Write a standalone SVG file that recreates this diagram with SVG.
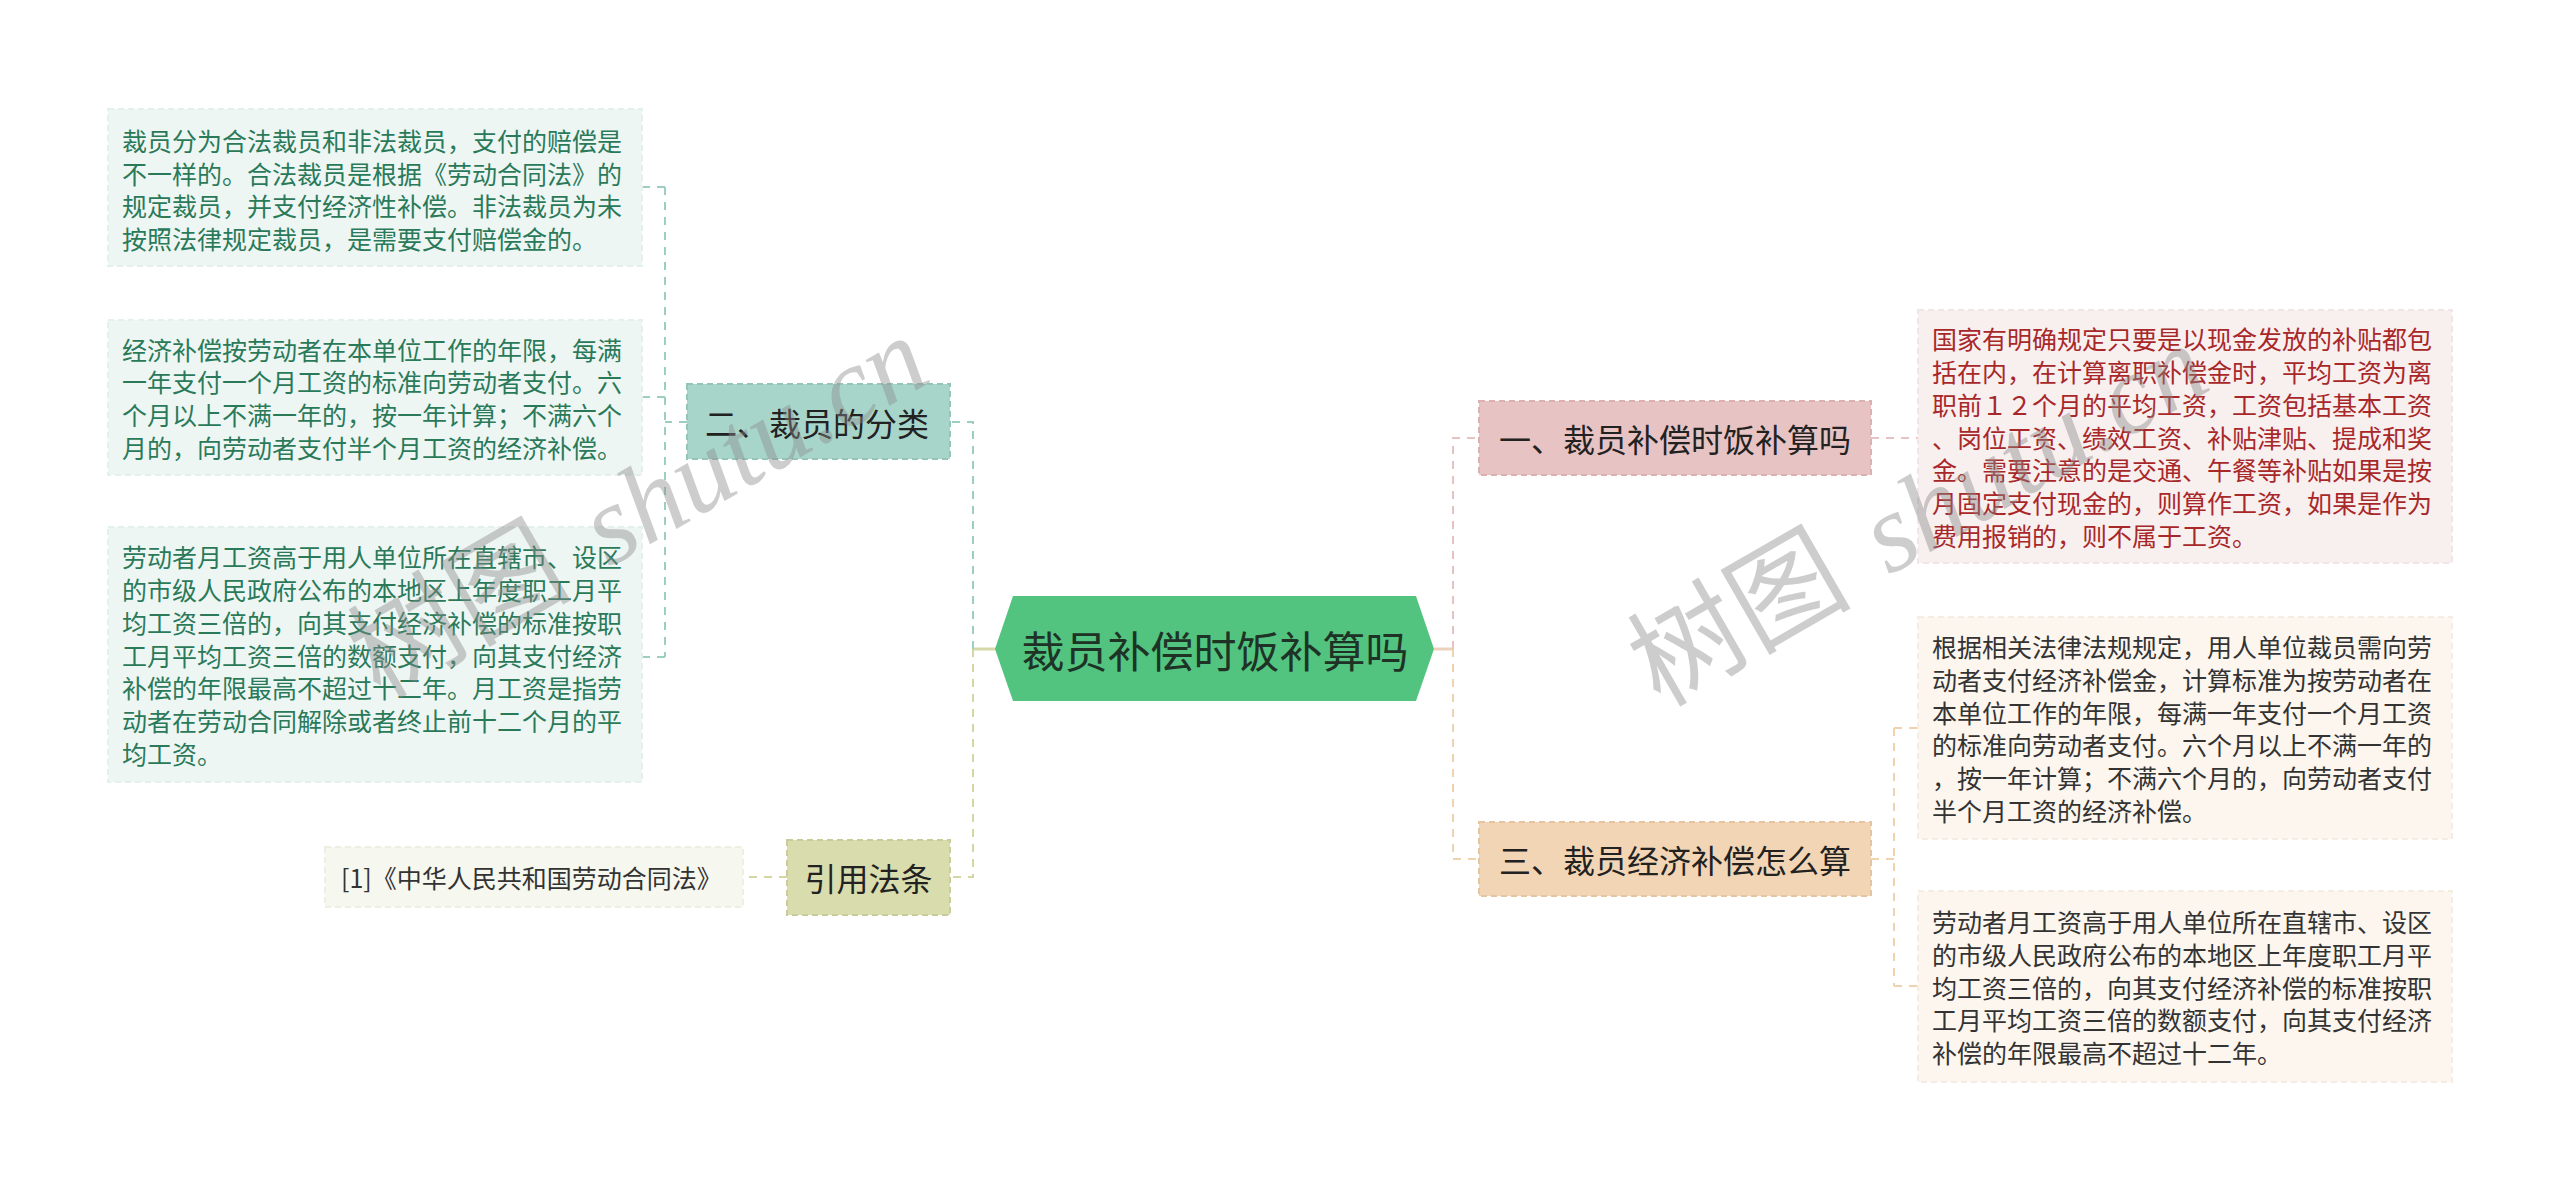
<svg xmlns="http://www.w3.org/2000/svg" width="2560" height="1192" viewBox="0 0 2560 1192">
<style>
text{font-family:"Noto Sans CJK SC","Noto Sans",sans-serif;dominant-baseline:central}
.leaf{font-size:25px}
.node{font-size:32px;fill:#222222}
.lg{fill:#2a7a5a}
.rd{fill:#a8282a}
.dk{fill:#333333}
.c{fill:none;stroke-width:2;stroke-dasharray:8 7}
.wm{fill:#8a8a8a;opacity:0.42}
</style>
<rect width="2560" height="1192" fill="#ffffff"/>
<g id="connectors">
<line x1="996" y1="649" x2="973" y2="649" stroke="#d6d8aa" stroke-width="3"/>
<path class="c" d="M973 649 V422 H950" stroke="#9ccfc2" stroke-width="3"/>
<path class="c" d="M973 649 V877 H950" stroke="#d4d6a4" stroke-width="3"/>
<line x1="1434" y1="649" x2="1453" y2="649" stroke="#ecd2ba" stroke-width="3"/>
<path class="c" d="M1453 649 V438 H1479" stroke="#e6c2c2" stroke-width="3"/>
<path class="c" d="M1453 649 V859 H1479" stroke="#efd2b0" stroke-width="3"/>
<path class="c" d="M687 422 H665 M665 187 V657 M665 187 H642 M665 397 H642 M665 657 H642" stroke="#9ccfc2"/>
<path class="c" d="M787 877 H743" stroke="#d4d6a4"/>
<path class="c" d="M1871 438 H1918" stroke="#e6c2c2"/>
<path class="c" d="M1871 859 H1894 M1894 728 V986 M1894 728 H1918 M1894 986 H1918" stroke="#efd2b0"/>
</g>
<g id="center">
<polygon points="995,649 1013,596 1416,596 1434,649 1416,701 1013,701" fill="#52c47f"/>
<text x="1215" y="649" text-anchor="middle" font-size="43" fill="#1e3326">裁员补偿时饭补算吗</text>
</g>
<g id="n2">
<rect x="687" y="384" width="263" height="75" fill="#a8d5ca" stroke="#93c6b9" stroke-width="2" stroke-dasharray="6 4"/>
<text class="node" x="705" y="422">二、裁员的分类</text>
</g>
<g id="n2a">
<rect x="108" y="109" width="534" height="157" fill="#eef6f4" stroke="#e4f0ec" stroke-width="2" stroke-dasharray="6 4"/>
<text class="leaf lg"><tspan x="122" y="140">裁员分为合法裁员和非法裁员，支付的赔偿是</tspan><tspan x="122" y="172.7">不一样的。合法裁员是根据《劳动合同法》的</tspan><tspan x="122" y="205.4">规定裁员，并支付经济性补偿。非法裁员为未</tspan><tspan x="122" y="238.1">按照法律规定裁员，是需要支付赔偿金的。</tspan></text>
</g>
<g id="n2b">
<rect x="108" y="320" width="534" height="155" fill="#eef6f4" stroke="#e4f0ec" stroke-width="2" stroke-dasharray="6 4"/>
<text class="leaf lg"><tspan x="122" y="348.5">经济补偿按劳动者在本单位工作的年限，每满</tspan><tspan x="122" y="381.2">一年支付一个月工资的标准向劳动者支付。六</tspan><tspan x="122" y="413.9">个月以上不满一年的，按一年计算；不满六个</tspan><tspan x="122" y="446.6">月的，向劳动者支付半个月工资的经济补偿。</tspan></text>
</g>
<g id="n2c">
<rect x="108" y="527" width="534" height="255" fill="#eef6f4" stroke="#e4f0ec" stroke-width="2" stroke-dasharray="6 4"/>
<text class="leaf lg"><tspan x="122" y="556.4">劳动者月工资高于用人单位所在直辖市、设区</tspan><tspan x="122" y="589.1">的市级人民政府公布的本地区上年度职工月平</tspan><tspan x="122" y="621.8">均工资三倍的，向其支付经济补偿的标准按职</tspan><tspan x="122" y="654.5">工月平均工资三倍的数额支付，向其支付经济</tspan><tspan x="122" y="687.2">补偿的年限最高不超过十二年。月工资是指劳</tspan><tspan x="122" y="719.9">动者在劳动合同解除或者终止前十二个月的平</tspan><tspan x="122" y="752.6">均工资。</tspan></text>
</g>
<g id="n4">
<rect x="787" y="840" width="163" height="75" fill="#d9dcad" stroke="#c9cc98" stroke-width="2" stroke-dasharray="6 4"/>
<text class="node" x="868.5" y="877" text-anchor="middle">引用法条</text>
</g>
<g id="n4a">
<rect x="325" y="847" width="418" height="60" fill="#f6f7ee" stroke="#eeefe2" stroke-width="2" stroke-dasharray="6 4"/>
<text class="leaf dk" x="341" y="877">[1]《中华人民共和国劳动合同法》</text>
</g>
<g id="n1">
<rect x="1479" y="401" width="392" height="74" fill="#e8c3c3" stroke="#dcb0b0" stroke-width="2" stroke-dasharray="6 4"/>
<text class="node" x="1499" y="438">一、裁员补偿时饭补算吗</text>
</g>
<g id="n1a">
<rect x="1918" y="310" width="534" height="253" fill="#f8efef" stroke="#f1e5e5" stroke-width="2" stroke-dasharray="6 4"/>
<text class="leaf rd"><tspan x="1932" y="338.4">国家有明确规定只要是以现金发放的补贴都包</tspan><tspan x="1932" y="371.1">括在内，在计算离职补偿金时，平均工资为离</tspan><tspan x="1932" y="403.8">职前１２个月的平均工资，工资包括基本工资</tspan><tspan x="1932" y="436.5">、岗位工资、绩效工资、补贴津贴、提成和奖</tspan><tspan x="1932" y="469.2">金。需要注意的是交通、午餐等补贴如果是按</tspan><tspan x="1932" y="501.9">月固定支付现金的，则算作工资，如果是作为</tspan><tspan x="1932" y="534.6">费用报销的，则不属于工资。</tspan></text>
</g>
<g id="n3">
<rect x="1479" y="822" width="392" height="74" fill="#f2d5b4" stroke="#e6c49f" stroke-width="2" stroke-dasharray="6 4"/>
<text class="node" x="1499" y="859">三、裁员经济补偿怎么算</text>
</g>
<g id="n3a">
<rect x="1918" y="617" width="534" height="222" fill="#fcf6ef" stroke="#f5ede3" stroke-width="2" stroke-dasharray="6 4"/>
<text class="leaf dk"><tspan x="1932" y="646.3">根据相关法律法规规定，用人单位裁员需向劳</tspan><tspan x="1932" y="679">动者支付经济补偿金，计算标准为按劳动者在</tspan><tspan x="1932" y="711.7">本单位工作的年限，每满一年支付一个月工资</tspan><tspan x="1932" y="744.4">的标准向劳动者支付。六个月以上不满一年的</tspan><tspan x="1932" y="777.1">，按一年计算；不满六个月的，向劳动者支付</tspan><tspan x="1932" y="809.8">半个月工资的经济补偿。</tspan></text>
</g>
<g id="n3b">
<rect x="1918" y="891" width="534" height="191" fill="#fcf6ef" stroke="#f5ede3" stroke-width="2" stroke-dasharray="6 4"/>
<text class="leaf dk"><tspan x="1932" y="921.1">劳动者月工资高于用人单位所在直辖市、设区</tspan><tspan x="1932" y="953.8">的市级人民政府公布的本地区上年度职工月平</tspan><tspan x="1932" y="986.5">均工资三倍的，向其支付经济补偿的标准按职</tspan><tspan x="1932" y="1019.2">工月平均工资三倍的数额支付，向其支付经济</tspan><tspan x="1932" y="1051.9">补偿的年限最高不超过十二年。</tspan></text>
</g>
<g id="watermark">
<text class="wm" transform="translate(380,700) rotate(-30)" font-size="112" style="dominant-baseline:auto">树图<tspan dx="40" font-family="Liberation Serif" font-style="italic">shutu.cn</tspan></text>
<text class="wm" transform="translate(1660,708) rotate(-30)" font-size="112" style="dominant-baseline:auto">树图<tspan dx="40" font-family="Liberation Serif" font-style="italic">shutu.cn</tspan></text>
</g>
</svg>
